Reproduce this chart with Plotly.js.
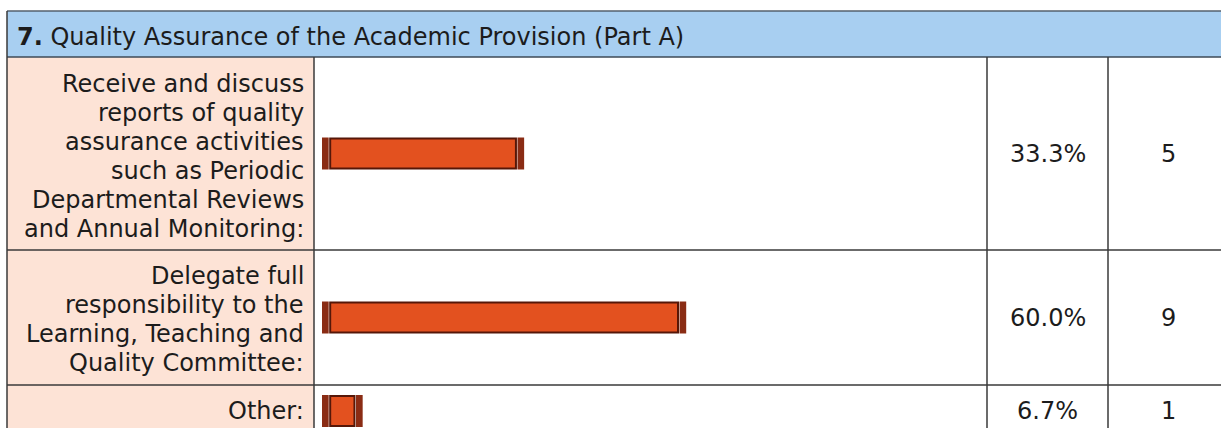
<!DOCTYPE html>
<html>
<head>
<meta charset="utf-8">
<script src="https://cdn.plot.ly/plotly-3.0.1.min.js"></script>
<style>html,body{margin:0;padding:0;background:#fff;}#chart{width:1221px;height:428px;}</style>
</head>
<body>
<div id="chart"></div>
<script>
// ---- data ----
const questionNumber = "7.";
const questionTitle = "Quality Assurance of the Academic Provision (Part A)";
const categories = [
  "Receive and discuss<br>reports of quality<br>assurance activities<br>such as Periodic<br>Departmental Reviews<br>and Annual Monitoring:",
  "Delegate full<br>responsibility to the<br>Learning, Teaching and<br>Quality Committee:",
  "Other:"
];
const percentages = [33.3, 60.0, 6.7];
const counts = [5, 9, 1];

// ---- layout constants (pixels) ----
const W = 1221, H = 428;
const px = x => x / W;
const py = y => 1 - y / H;
const tableLeft = 7, headerTop = 11, headerBottom = 57;
const colLabelRight = 314, colPctRight = 987, colCntRight = 1108;
const rowBounds = [[57, 250], [250, 385], [385, 437]];
const textShift = [3, 2, 0];
const lineStep = 29;
const barZeroPx = 322, barHundredPx = 929;
const barThick = 30, capThick = 32;
const capW = 1.1, gap = 0.25;
const fontFam = "DejaVu Sans, Verdana, sans-serif";
const fontSize = 24;
const txtColor = "#1c1c1c";
const lineColor = "#3a3a3a";

const traces = [];
const layout = {
  width: W, height: H,
  margin: {l: 0, r: 0, t: 0, b: 0, pad: 0},
  paper_bgcolor: "#ffffff", plot_bgcolor: "rgba(0,0,0,0)",
  showlegend: false, barmode: "overlay",
  xaxis: {domain: [px(barZeroPx), px(barHundredPx)], range: [0, 100], visible: false, fixedrange: true},
  shapes: [], annotations: []
};

categories.forEach((cat, i) => {
  const [top, bottom] = rowBounds[i];
  const center = (top + bottom) / 2;
  const visBottom = Math.min(bottom, H);
  const axName = i === 0 ? "yaxis" : "yaxis" + (i + 1);
  const ref = i === 0 ? "y" : "y" + (i + 1);
  layout[axName] = {
    type: "category", domain: [py(visBottom), py(top)],
    range: [-(visBottom - center), center - top],
    anchor: "x", visible: false, fixedrange: true
  };
  const v = percentages[i];
  // body
  traces.push({
    type: "bar", orientation: "h", y: [cat], x: [Math.max(v - 2 * (capW + gap), 0.5)],
    base: [capW + gap], width: [barThick], yaxis: ref, xaxis: "x",
    marker: {color: "#e3511f", line: {color: "#561708", width: 2}},
    hoverinfo: "skip"
  });
  // left cap
  traces.push({
    type: "bar", orientation: "h", y: [cat], x: [capW], base: [0],
    width: [capThick], yaxis: ref, xaxis: "x",
    marker: {color: "#8a2c14", line: {width: 0}}, hoverinfo: "skip"
  });
  // right cap
  traces.push({
    type: "bar", orientation: "h", y: [cat], x: [capW], base: [Math.max(v - capW, capW + gap + 0.5 + gap)],
    width: [capThick], yaxis: ref, xaxis: "x",
    marker: {color: "#8a2c14", line: {width: 0}}, hoverinfo: "skip"
  });

  // label cell background
  layout.shapes.push({type: "rect", xref: "paper", yref: "paper", layer: "below",
    x0: px(tableLeft), x1: px(colLabelRight), y0: py(visBottom), y1: py(top),
    fillcolor: "#fde3d6", line: {width: 0}});
  // label text, one annotation per line for exact line spacing
  const lines = cat.split("<br>");
  const textCenter = center + textShift[i];
  lines.forEach((ln, k) => {
    const yy = textCenter + (k - (lines.length - 1) / 2) * lineStep;
    layout.annotations.push({xref: "paper", yref: "paper", x: px(306), y: py(yy),
      xanchor: "right", yanchor: "middle", align: "right", showarrow: false,
      text: ln, font: {family: fontFam, size: fontSize, color: txtColor}});
  });
  layout.annotations.push({xref: "paper", yref: "paper", x: px((colPctRight + colCntRight) / 2), y: py(center),
    xanchor: "center", yanchor: "middle", showarrow: false,
    text: v.toFixed(1) + "%", font: {family: fontFam, size: fontSize, color: txtColor}});
  layout.annotations.push({xref: "paper", yref: "paper", x: px((colCntRight + 1228) / 2), y: py(center),
    xanchor: "center", yanchor: "middle", showarrow: false,
    text: String(counts[i]), font: {family: fontFam, size: fontSize, color: txtColor}});
  // row divider (bottom)
  if (bottom < H) {
    layout.shapes.push({type: "line", xref: "paper", yref: "paper",
      x0: px(tableLeft), x1: 1, y0: py(bottom), y1: py(bottom),
      line: {color: lineColor, width: 1.5}});
  }
});

// header band
layout.shapes.push({type: "rect", xref: "paper", yref: "paper", layer: "below",
  x0: px(tableLeft), x1: 1.01, y0: py(headerBottom), y1: py(headerTop),
  fillcolor: "#a8cff1", line: {width: 0}});
layout.shapes.push({type: "line", xref: "paper", yref: "paper",
  x0: px(tableLeft), x1: 1, y0: py(headerTop), y1: py(headerTop), line: {color: "#55606c", width: 1.5}});
layout.shapes.push({type: "line", xref: "paper", yref: "paper",
  x0: px(tableLeft), x1: 1, y0: py(headerBottom), y1: py(headerBottom), line: {color: "#3e4a56", width: 1.5}});
// vertical lines
layout.shapes.push({type: "line", xref: "paper", yref: "paper",
  x0: px(tableLeft), x1: px(tableLeft), y0: 0, y1: py(headerTop), line: {color: lineColor, width: 1.5}});
[colLabelRight, colPctRight, colCntRight].forEach(x => {
  layout.shapes.push({type: "line", xref: "paper", yref: "paper",
    x0: px(x), x1: px(x), y0: 0, y1: py(headerBottom), line: {color: lineColor, width: 1.5}});
});
// header title
layout.annotations.push({xref: "paper", yref: "paper", x: px(15), y: py(37),
  xanchor: "left", yanchor: "middle", showarrow: false,
  text: "<b>" + questionNumber + "</b> " + questionTitle,
  font: {family: fontFam, size: fontSize, color: txtColor}});

Plotly.newPlot("chart", traces, layout, {staticPlot: true, displayModeBar: false});
</script>
</body>
</html>
